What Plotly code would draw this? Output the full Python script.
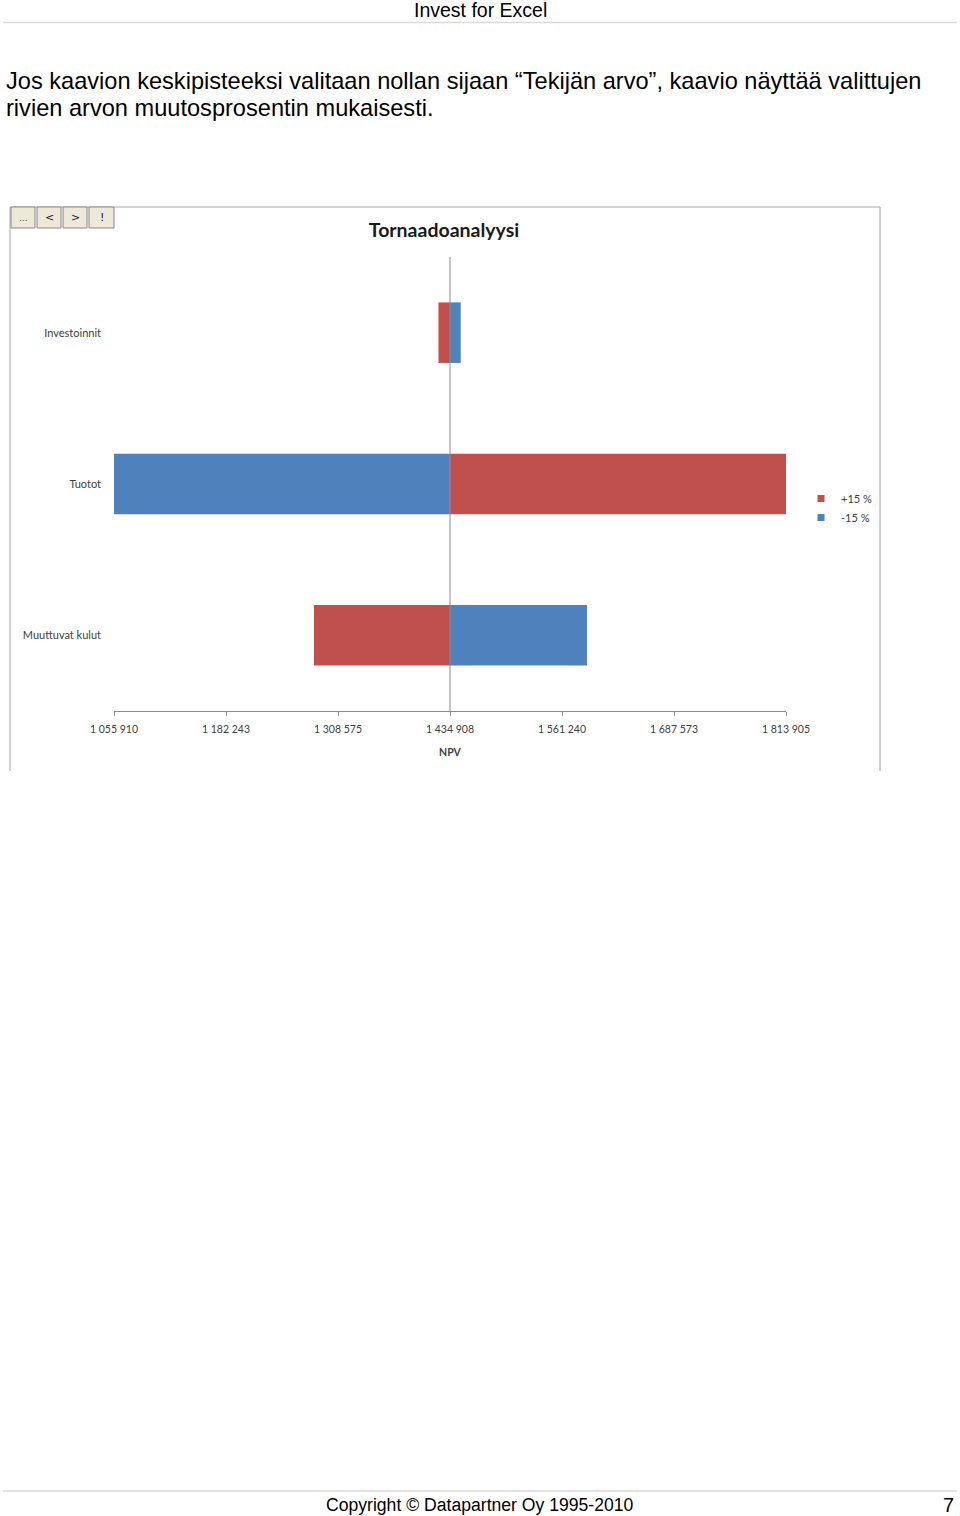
import plotly.graph_objects as go

# ---- data ----
categories = ["Investoinnit", "Tuotot", "Muuttuvat kulut"]
base_npv = 1434908
plus15 = [1421900, 1813905, 1281500]   # +15 %
minus15 = [1447000, 1055910, 1589450]  # -15 %
tick_vals = [1055910, 1182243, 1308575, 1434908, 1561240, 1687573, 1813905]
tick_text = ["1 055 910", "1 182 243", "1 308 575", "1 434 908", "1 561 240", "1 687 573", "1 813 905"]
series_names = ["+15 %", "-15 %"]

RED = "#C0504D"
BLUE = "#4F81BD"
W, H = 960, 1516


def xp(px):
    return px / W


def yp(py):
    return 1 - py / H


CHART_FONT = "Lato"
PAGE_FONT = "Liberation Sans"

fig = go.Figure()

fig.add_trace(go.Bar(
    y=categories, x=[v - base_npv for v in plus15], base=base_npv,
    orientation="h", marker=dict(color=RED, line=dict(width=0)),
    width=0.4, name=series_names[0], showlegend=False, hoverinfo="skip"))
fig.add_trace(go.Bar(
    y=categories, x=[v - base_npv for v in minus15], base=base_npv,
    orientation="h", marker=dict(color=BLUE, line=dict(width=0)),
    width=0.4, name=series_names[1], showlegend=False, hoverinfo="skip"))

# legend entries
for nm, col in zip(series_names, [RED, BLUE]):
    fig.add_trace(go.Scatter(x=[None], y=[None], mode="markers", name=nm,
                             marker=dict(symbol="square", size=7, color=col)))

x_dom = [xp(114), xp(786)]
y_dom = [yp(711), yp(257)]

fig.update_layout(
    width=W, height=H,
    margin=dict(l=0, r=0, t=0, b=0, pad=0, autoexpand=False),
    paper_bgcolor="white", plot_bgcolor="white",
    barmode="overlay",
    font=dict(family=CHART_FONT, size=10.5, color="#404040"),
    title=dict(text="<b>Tornaadoanalyysi</b>", x=xp(444), y=yp(230),
               xanchor="center", yanchor="middle",
               font=dict(family=CHART_FONT, size=19.5, color="#1a1a1a")),
    xaxis=dict(domain=x_dom, range=[tick_vals[0], tick_vals[-1]],
               tickvals=tick_vals, ticktext=tick_text,
               showgrid=False, zeroline=False,
               showline=True, linecolor="#8c8c8c", linewidth=1,
               ticks="outside", ticklen=4, tickcolor="#8c8c8c",
               ticklabelstandoff=4,
               tickfont=dict(size=10.5, color="#404040"),
               title=dict(text="<b>NPV</b>", standoff=15,
                          font=dict(size=10.5, color="#404040"))),
    yaxis=dict(domain=y_dom, categoryorder="array", categoryarray=categories,
               autorange="reversed", showgrid=False, zeroline=False,
               showline=False, ticks="", ticklabelstandoff=12,
               tickfont=dict(size=11, color="#404040")),
    legend=dict(x=xp(801), y=yp(484), xanchor="left", yanchor="top",
                bgcolor="rgba(0,0,0,0)", font=dict(size=11, color="#404040"),
                itemwidth=30, tracegroupgap=0),
    showlegend=True,
)

shapes = []
# vertical axis at base value
shapes.append(dict(type="line", xref="x", yref="paper", x0=base_npv, x1=base_npv,
                   y0=y_dom[0], y1=y_dom[1], line=dict(color="#8c8c8c", width=1), layer="above"))
# chart frame
frame_col = "#a6a6a6"
shapes.append(dict(type="line", xref="paper", yref="paper", x0=xp(10), x1=xp(880),
                   y0=yp(207), y1=yp(207), line=dict(color=frame_col, width=1)))
shapes.append(dict(type="line", xref="paper", yref="paper", x0=xp(10), x1=xp(10),
                   y0=yp(207), y1=yp(771), line=dict(color=frame_col, width=1)))
shapes.append(dict(type="line", xref="paper", yref="paper", x0=xp(880), x1=xp(880),
                   y0=yp(207), y1=yp(771), line=dict(color=frame_col, width=1)))
# page header / footer rules
shapes.append(dict(type="line", xref="paper", yref="paper", x0=xp(3), x1=xp(957),
                   y0=yp(22.5), y1=yp(22.5), line=dict(color="#d9d9d9", width=1.5)))
shapes.append(dict(type="line", xref="paper", yref="paper", x0=xp(3), x1=xp(957),
                   y0=yp(1491), y1=yp(1491), line=dict(color="#d9d9d9", width=1.5)))

annotations = []
# buttons
buttons = [("...", 11, 35), ("<", 37, 61), (">", 63, 87), ("!", 89, 114)]
for label, bx0, bx1 in buttons:
    shapes.append(dict(type="rect", xref="paper", yref="paper", x0=xp(bx0), x1=xp(bx1),
                       y0=yp(228), y1=yp(207), fillcolor="#ECE9D8",
                       line=dict(color="#8a8a8a", width=1)))
    annotations.append(dict(text=label, xref="paper", yref="paper", x=xp((bx0 + bx1) / 2),
                            y=yp(217.5), xanchor="center", yanchor="middle", showarrow=False,
                            font=dict(family="DejaVu Sans", size=9 if label == "..." else 11,
                                      color="#555555" if label == "..." else "#222222")))

page_texts = [
    ("Invest for Excel", 480, 10, "center", 19.5),
    ("Jos kaavion keskipisteeksi valitaan nollan sijaan \u201cTekij\u00e4n arvo\u201d, kaavio n\u00e4ytt\u00e4\u00e4 valittujen",
     4, 81, "left", 23.6),
    ("rivien arvon muutosprosentin mukaisesti.", 4, 108, "left", 23.6),
    ("Copyright \u00a9 Datapartner Oy 1995-2010", 480, 1505, "center", 17.6),
    ("7", 948, 1505, "center", 20),
]
for txt, px, py, anc, sz in page_texts:
    annotations.append(dict(text=txt, xref="paper", yref="paper", x=xp(px), y=yp(py),
                            xanchor=anc, yanchor="middle", showarrow=False,
                            font=dict(family=PAGE_FONT, size=sz, color="black")))

fig.update_layout(shapes=shapes, annotations=annotations)

fig.write_html("out.html")
